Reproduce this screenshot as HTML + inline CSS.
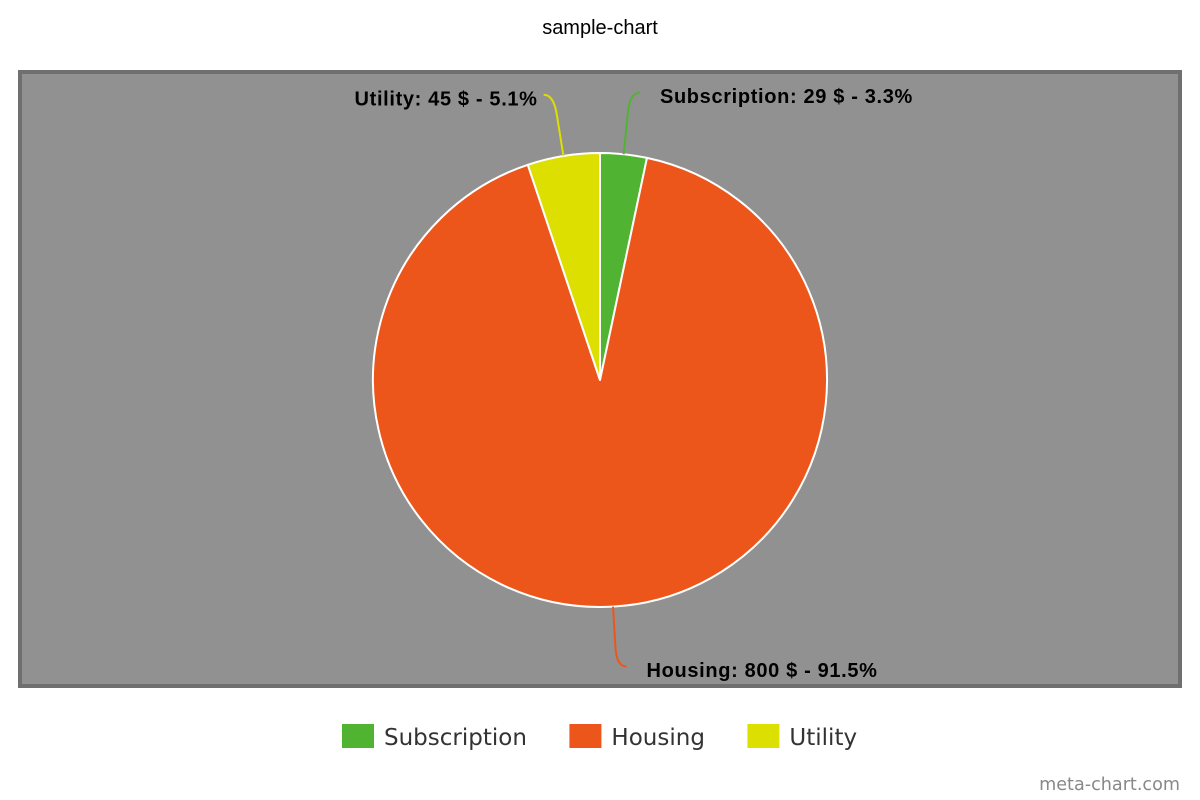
<!DOCTYPE html>
<html lang="en">
<head>
<meta charset="utf-8">
<title>sample-chart</title>
<style>
html,body{margin:0;padding:0;background:#fff;width:1200px;height:800px;overflow:hidden}
svg{display:block}
.lbl{font-family:"Liberation Sans",sans-serif;font-weight:bold;font-size:20px;letter-spacing:.65px;fill:#000}
.leg{font-family:"DejaVu Sans",sans-serif;font-size:23px;fill:#333}
</style>
</head>
<body>
<svg id="chart" width="1200" height="800" viewBox="0 0 1200 800" xmlns="http://www.w3.org/2000/svg">
  <rect x="0" y="0" width="1200" height="800" fill="#ffffff"/>
  <text x="600" y="34" text-anchor="middle" font-family="'Liberation Sans',sans-serif" font-size="20" fill="#000">sample-chart</text>
  <rect x="20" y="72" width="1160" height="614" fill="#919191" stroke="#6f6f6f" stroke-width="4"/>
  <g id="slices"></g>
  <g id="connectors"></g>
  <g id="labels"></g>
  <g id="legend"></g>
  <text x="1180" y="790" text-anchor="end" font-family="'DejaVu Sans',sans-serif" font-size="17.6" fill="#888888">meta-chart.com</text>
</svg>
<script>
const categories = ['Subscription', 'Housing', 'Utility'];
const seriesValues = [29, 800, 45];
const seriesColors = ['#50b432', '#ed561b', '#dddf00'];
const unit = '$';

const NS = 'http://www.w3.org/2000/svg';
const cx = 600, cy = 380, radius = 227, labelRadius = 288, labelCy = 379;
const total = seriesValues.reduce(function (a, b) { return a + b; }, 0);

function pointAt(angle, r) {
  return [cx + r * Math.sin(angle), cy - r * Math.cos(angle)];
}
function make(tag, attrs, parent) {
  const el = document.createElementNS(NS, tag);
  Object.keys(attrs).forEach(function (k) { el.setAttribute(k, attrs[k]); });
  parent.appendChild(el);
  return el;
}

const slicesG = document.getElementById('slices');
const connG = document.getElementById('connectors');
const labelsG = document.getElementById('labels');
const legendG = document.getElementById('legend');

let running = 0;
categories.forEach(function (cat, i) {
  const v = seriesValues[i];
  const a0 = running / total * 2 * Math.PI;
  running += v;
  const a1 = running / total * 2 * Math.PI;
  const mid = (a0 + a1) / 2;
  const p0 = pointAt(a0, radius), p1 = pointAt(a1, radius);
  const large = a1 - a0 > Math.PI ? 1 : 0;
  const slice = make('path', {
    d: 'M' + cx + ' ' + cy + ' L' + p0[0] + ' ' + p0[1] + ' A' + radius + ' ' + radius + ' 0 ' + large + ' 1 ' + p1[0] + ' ' + p1[1] + ' Z',
    fill: seriesColors[i], stroke: '#ffffff', 'stroke-width': 2, 'stroke-linejoin': 'round'
  }, slicesG);
  
  

  const s = Math.sin(mid) >= 0 ? 1 : -1;
  const edge = pointAt(mid, radius);
  const ex = cx + s * (labelRadius * Math.abs(Math.sin(mid)) + 10);
  const ey = labelCy - labelRadius * Math.cos(mid);
  const cornerX = ex - s * 10;
  const bendX = cornerX + (edge[0] - cornerX) * 0.32;
  const bendY = ey + (edge[1] - ey) * 0.32;
  const conn = make('path', {
    d: 'M' + ex + ' ' + ey + ' Q' + cornerX + ' ' + ey + ' ' + bendX + ' ' + bendY + ' L' + edge[0] + ' ' + edge[1],
    fill: 'none', stroke: seriesColors[i], 'stroke-width': 2
  }, connG);
  
  

  const pct = (v / total * 100).toFixed(1);
  const label = make('text', {
    class: 'lbl',
    x: ex + (s > 0 ? 20 : -6),
    y: ey + 10.5,
    'text-anchor': s > 0 ? 'start' : 'end'
  }, labelsG);
  label.textContent = cat + ': ' + v + ' ' + unit + ' - ' + pct + '%';
  
  
});

let legendX = 342;
categories.forEach(function (cat, i) {
  const item = make('g', {}, legendG);
  
  
  const swatch = make('rect', { x: legendX, y: 724, width: 32, height: 24, fill: seriesColors[i] }, item);
  
  
  const text = make('text', { class: 'leg', x: legendX + 42, y: 745 }, item);
  text.textContent = cat;
  
  
  legendX += 42 + text.getComputedTextLength() + 42.5;
});
</script>
</body>
</html>
